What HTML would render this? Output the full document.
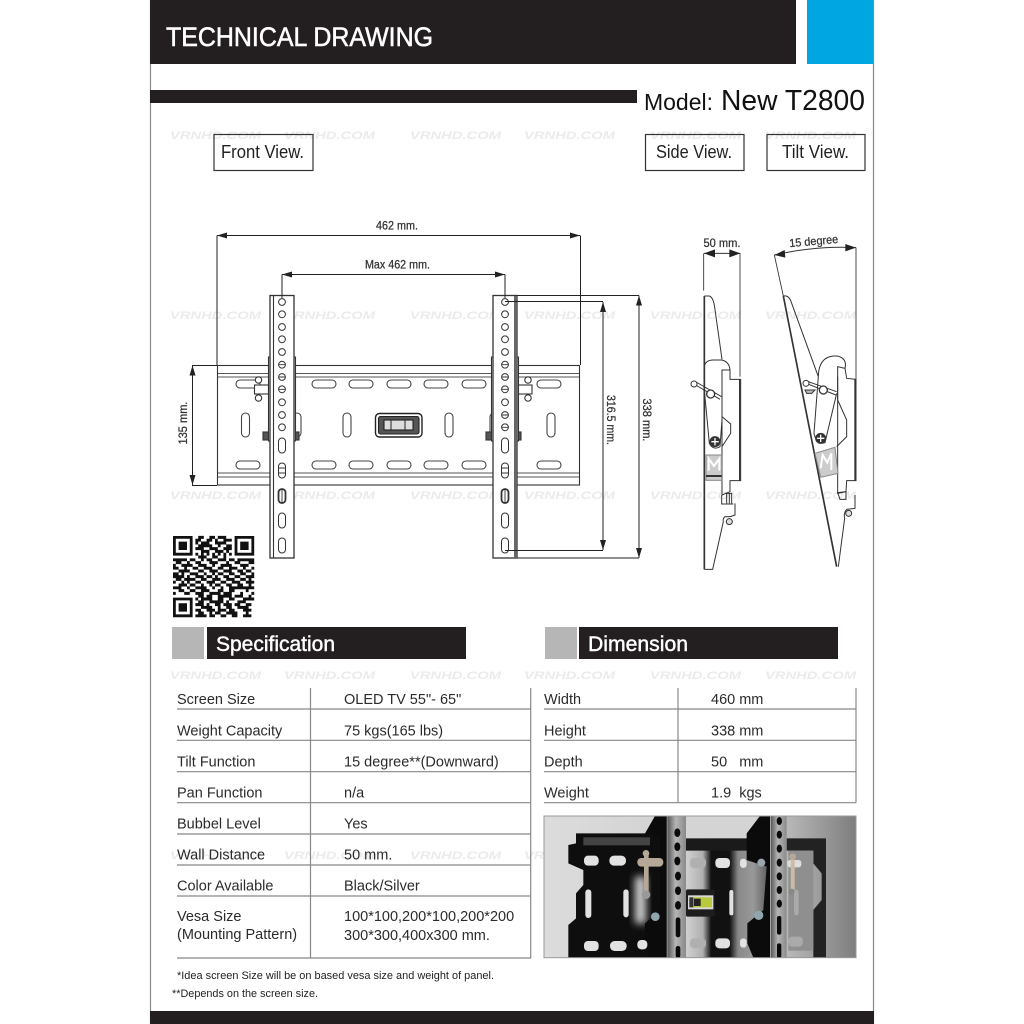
<!DOCTYPE html>
<html><head><meta charset="utf-8"><title>Technical Drawing</title>
<style>html,body{margin:0;padding:0;background:#fff}svg{display:block;filter:blur(.35px)}</style></head>
<body>
<svg xmlns="http://www.w3.org/2000/svg" width="1024" height="1024" viewBox="0 0 1024 1024">
<defs>
<linearGradient id="bgR" x1="0" x2="1" y1="0" y2="0"><stop offset="0" stop-color="#b8b8b8"/><stop offset="1" stop-color="#7e7e7e"/></linearGradient>
<linearGradient id="bgL" x1="0" x2="1" y1="0" y2="0"><stop offset="0" stop-color="#dcdcdc"/><stop offset="1" stop-color="#c4c4c4"/></linearGradient>
<linearGradient id="mid" x1="0" x2="1" y1="0" y2="0"><stop offset="0" stop-color="#d0d0d0"/><stop offset=".2" stop-color="#b0b0b0"/><stop offset=".3" stop-color="#111"/><stop offset=".52" stop-color="#111"/><stop offset=".62" stop-color="#888"/><stop offset=".8" stop-color="#999"/><stop offset="1" stop-color="#555"/></linearGradient>
<linearGradient id="rail" x1="0" x2="1" y1="0" y2="0"><stop offset="0" stop-color="#555"/><stop offset=".45" stop-color="#b5b5b5"/><stop offset="1" stop-color="#8a8a8a"/></linearGradient>
<filter id="soft" x="-50%" y="-50%" width="200%" height="200%"><feGaussianBlur stdDeviation="12"/></filter>
<marker id="ah" viewBox="0 0 10 6" refX="10" refY="3" markerWidth="10" markerHeight="6" markerUnits="userSpaceOnUse" orient="auto-start-reverse"><path d="M0 0L10 3L0 6z" fill="#222"/></marker>
</defs>

<!-- page frame -->
<rect x="150" y="0" width="724" height="1024" fill="#fff"/>
<path d="M150.500 0V1024M873.500 0V1024" stroke="#8a8a8a" stroke-width="1.200"/>
<rect x="150" y="0" width="646" height="64" fill="#231f20"/>
<rect x="807" y="0" width="66" height="64" fill="#00a6e2"/>
<rect x="150" y="90" width="487" height="13" fill="#231f20"/>
<rect x="150" y="1011" width="724" height="13" fill="#231f20"/>

<!-- watermarks -->
<g font-family="Liberation Sans, sans-serif" font-weight="bold" font-style="italic" font-size="11" fill="#ebebeb">
<text x="170" y="139" textLength="91" lengthAdjust="spacingAndGlyphs">VRNHD.COM</text><text x="284" y="139" textLength="91" lengthAdjust="spacingAndGlyphs">VRNHD.COM</text><text x="410" y="139" textLength="91" lengthAdjust="spacingAndGlyphs">VRNHD.COM</text><text x="524" y="139" textLength="91" lengthAdjust="spacingAndGlyphs">VRNHD.COM</text><text x="650" y="139" textLength="91" lengthAdjust="spacingAndGlyphs">VRNHD.COM</text><text x="765" y="139" textLength="91" lengthAdjust="spacingAndGlyphs">VRNHD.COM</text>
<text x="170" y="319" textLength="91" lengthAdjust="spacingAndGlyphs">VRNHD.COM</text><text x="284" y="319" textLength="91" lengthAdjust="spacingAndGlyphs">VRNHD.COM</text><text x="410" y="319" textLength="91" lengthAdjust="spacingAndGlyphs">VRNHD.COM</text><text x="524" y="319" textLength="91" lengthAdjust="spacingAndGlyphs">VRNHD.COM</text><text x="650" y="319" textLength="91" lengthAdjust="spacingAndGlyphs">VRNHD.COM</text><text x="765" y="319" textLength="91" lengthAdjust="spacingAndGlyphs">VRNHD.COM</text>
<text x="170" y="499" textLength="91" lengthAdjust="spacingAndGlyphs">VRNHD.COM</text><text x="284" y="499" textLength="91" lengthAdjust="spacingAndGlyphs">VRNHD.COM</text><text x="410" y="499" textLength="91" lengthAdjust="spacingAndGlyphs">VRNHD.COM</text><text x="524" y="499" textLength="91" lengthAdjust="spacingAndGlyphs">VRNHD.COM</text><text x="650" y="499" textLength="91" lengthAdjust="spacingAndGlyphs">VRNHD.COM</text><text x="765" y="499" textLength="91" lengthAdjust="spacingAndGlyphs">VRNHD.COM</text>
<text x="170" y="679" textLength="91" lengthAdjust="spacingAndGlyphs">VRNHD.COM</text><text x="284" y="679" textLength="91" lengthAdjust="spacingAndGlyphs">VRNHD.COM</text><text x="410" y="679" textLength="91" lengthAdjust="spacingAndGlyphs">VRNHD.COM</text><text x="524" y="679" textLength="91" lengthAdjust="spacingAndGlyphs">VRNHD.COM</text><text x="650" y="679" textLength="91" lengthAdjust="spacingAndGlyphs">VRNHD.COM</text><text x="765" y="679" textLength="91" lengthAdjust="spacingAndGlyphs">VRNHD.COM</text>
<text x="170" y="859" textLength="91" lengthAdjust="spacingAndGlyphs">VRNHD.COM</text><text x="284" y="859" textLength="91" lengthAdjust="spacingAndGlyphs">VRNHD.COM</text><text x="410" y="859" textLength="91" lengthAdjust="spacingAndGlyphs">VRNHD.COM</text><text x="524" y="859" textLength="91" lengthAdjust="spacingAndGlyphs">VRNHD.COM</text>
</g>

<!-- header text -->
<g font-family="Liberation Sans, sans-serif">
<text x="166" y="46" font-size="27" fill="#fff" stroke="#fff" stroke-width=".55" textLength="267" lengthAdjust="spacingAndGlyphs">TECHNICAL DRAWING</text>
<text x="644" y="110" font-size="23" fill="#111" textLength="69" lengthAdjust="spacingAndGlyphs">Model:</text>
<text x="721" y="110" font-size="28.500" fill="#111" textLength="144" lengthAdjust="spacingAndGlyphs">New T2800</text>
<g fill="none" stroke="#333" stroke-width="1.200"><rect x="214" y="134.500" width="99" height="36"/><rect x="645.500" y="134.500" width="98.500" height="36"/><rect x="767" y="134.500" width="98" height="36"/></g>
<g font-size="18" fill="#222">
<text x="221" y="158" textLength="83" lengthAdjust="spacingAndGlyphs">Front View.</text>
<text x="656" y="158" textLength="76" lengthAdjust="spacingAndGlyphs">Side View.</text>
<text x="782" y="158" textLength="67" lengthAdjust="spacingAndGlyphs">Tilt View.</text>
</g>
</g>

<!-- front view: plate -->
<g fill="none" stroke="#333" stroke-width="1.100">
<rect x="217.500" y="365.500" width="362" height="119.500"/>
<path d="M218 373.500H579M218 377H579M218 473H579M218 477H579" stroke="#555"/>
<g fill="#fff" stroke="#444">
<rect x="236" y="380" width="24" height="8" rx="4"/><rect x="312" y="380" width="24" height="8" rx="4"/><rect x="349" y="380" width="24" height="8" rx="4"/><rect x="387" y="380" width="24" height="8" rx="4"/><rect x="424" y="380" width="24" height="8" rx="4"/><rect x="462" y="380" width="24" height="8" rx="4"/><rect x="537" y="380" width="24" height="8" rx="4"/>
<rect x="236" y="461" width="24" height="8" rx="4"/><rect x="312" y="461" width="24" height="8" rx="4"/><rect x="349" y="461" width="24" height="8" rx="4"/><rect x="387" y="461" width="24" height="8" rx="4"/><rect x="424" y="461" width="24" height="8" rx="4"/><rect x="462" y="461" width="24" height="8" rx="4"/><rect x="537" y="461" width="24" height="8" rx="4"/>
<rect x="241.500" y="413" width="8" height="24" rx="4"/><rect x="343" y="413" width="8" height="24" rx="4"/><rect x="445" y="413" width="8" height="24" rx="4"/><rect x="547" y="413" width="8" height="24" rx="4"/>
<rect x="293" y="413" width="8" height="24" rx="4"/><rect x="490" y="413" width="8" height="24" rx="4"/>
</g>
<rect x="375.500" y="413.500" width="46.500" height="23.500" rx="4" stroke="#222" stroke-width="1.400"/>
<rect x="378.500" y="416.500" width="40.500" height="17.500" rx="2" stroke="#222" fill="#555"/>
<rect x="384" y="420" width="29" height="10" fill="#ddd" stroke="#222"/>
<path d="M391 420V430M405 420V430" stroke="#222" stroke-width="1"/>
<!-- tilt knobs -->
<circle cx="258.500" cy="380" r="3.200" fill="#fff"/><circle cx="258.500" cy="398" r="3.200" fill="#fff"/><rect x="254.500" y="385" width="14" height="9" fill="#fff"/>
<circle cx="528" cy="380" r="3.200" fill="#fff"/><circle cx="528" cy="398" r="3.200" fill="#fff"/><rect x="518" y="385" width="14" height="9" fill="#fff"/>
<!-- bolts -->
<rect x="263" y="432" width="6" height="8" fill="#555"/><rect x="294" y="432" width="5" height="8" fill="#555"/><rect x="486" y="432" width="6" height="8" fill="#555"/><rect x="516" y="432" width="5" height="8" fill="#555"/>
<!-- flanges -->
<path d="M268.500 357V441H295.500V357zM491.500 357V441H518.500V357z" fill="#f3f3f3" stroke="#333"/>
<!-- rails -->
<rect x="270" y="295.500" width="24" height="262.500" fill="#fff" stroke="#333" stroke-width="1.300"/>
<path d="M273.500 296V558"/>
<rect x="493" y="295.500" width="24" height="262.500" fill="#fff" stroke="#333" stroke-width="1.300"/>
<rect x="514" y="296" width="3" height="262" fill="#666" stroke="none"/>
<g fill="#fff" stroke="#333" stroke-width="1">
<circle cx="282" cy="302" r="3.400"/><circle cx="282" cy="314.300" r="3.400"/><circle cx="282" cy="327" r="3.400"/><circle cx="282" cy="339.300" r="3.400"/><circle cx="282" cy="352" r="3.400"/><circle cx="282" cy="364.700" r="3.400"/><circle cx="282" cy="377" r="3.400"/><circle cx="282" cy="389.300" r="3.400"/><circle cx="282" cy="402.300" r="3.400"/><circle cx="282" cy="415" r="3.400"/><circle cx="282" cy="427.300" r="3.400"/>
<rect x="278.500" y="438" width="7" height="15" rx="3.500"/><rect x="278.500" y="463" width="7" height="15" rx="3.500"/><rect x="278.500" y="489" width="7" height="14" rx="3.500" stroke-width="1.800"/><rect x="278.500" y="513" width="7" height="15" rx="3.500"/><rect x="278.500" y="538" width="7" height="15" rx="3.500"/>
<circle cx="505" cy="302" r="3.400"/><circle cx="505" cy="314.300" r="3.400"/><circle cx="505" cy="327" r="3.400"/><circle cx="505" cy="339.300" r="3.400"/><circle cx="505" cy="352" r="3.400"/><circle cx="505" cy="364.700" r="3.400"/><circle cx="505" cy="377" r="3.400"/><circle cx="505" cy="389.300" r="3.400"/><circle cx="505" cy="402.300" r="3.400"/><circle cx="505" cy="415" r="3.400"/><circle cx="505" cy="427.300" r="3.400"/>
<rect x="501.500" y="438" width="7" height="15" rx="3.500"/><rect x="501.500" y="463" width="7" height="15" rx="3.500"/><rect x="501.500" y="489" width="7" height="14" rx="3.500" stroke-width="1.800"/><rect x="501.500" y="513" width="7" height="15" rx="3.500"/><rect x="501.500" y="538" width="7" height="15" rx="3.500"/>
</g>
<path d="M278.500 364.700H285.500M278.500 377H285.500M278.500 389.300H285.500M278.500 468H285.500M278.500 473H285.500M282 489V503M501.500 364.700H508.500M501.500 377H508.500M501.500 389.300H508.500M501.500 415H508.500M501.500 427.300H508.500M501.500 468H508.500M501.500 473H508.500M505 489V503" stroke-width=".9"/>
</g>

<!-- dimensions -->
<g fill="none" stroke="#222" stroke-width="1">
<path d="M217 235.500H580" marker-start="url(#ah)" marker-end="url(#ah)"/><path d="M217 235.500V365M580.500 235.500V365"/>
<path d="M282 274.500H505" marker-start="url(#ah)" marker-end="url(#ah)"/><path d="M282 274.500V298M505 274.500V298"/>
<path d="M192.500 365.500V485" marker-start="url(#ah)" marker-end="url(#ah)"/><path d="M192 365.500H217M192 485.500H217"/>
<path d="M603 302V550" marker-start="url(#ah)" marker-end="url(#ah)"/><path d="M505 301.500H603M505 550.500H603"/>
<path d="M639 295.500V558" marker-start="url(#ah)" marker-end="url(#ah)"/><path d="M517 295.500H639M517 558H639"/>
</g>
<g font-family="Liberation Sans, sans-serif" font-size="11.500" fill="#333" stroke="#333" stroke-width=".25">
<text x="397" y="229.500" text-anchor="middle" textLength="42" lengthAdjust="spacingAndGlyphs">462 mm.</text>
<text x="397.500" y="268.500" text-anchor="middle" textLength="65" lengthAdjust="spacingAndGlyphs">Max 462 mm.</text>
<text transform="translate(187,423) rotate(-90)" text-anchor="middle" textLength="43" lengthAdjust="spacingAndGlyphs">135 mm.</text>
<text transform="translate(607,420) rotate(90)" text-anchor="middle" textLength="50" lengthAdjust="spacingAndGlyphs">316.5 mm.</text>
<text transform="translate(643,420) rotate(90)" text-anchor="middle" textLength="43" lengthAdjust="spacingAndGlyphs">338 mm.</text>
<text x="722" y="247" text-anchor="middle" textLength="37" lengthAdjust="spacingAndGlyphs">50 mm.</text>
<text transform="translate(814,245) rotate(-5)" text-anchor="middle" textLength="49" lengthAdjust="spacingAndGlyphs">15 degree</text>
</g>

<!-- side view -->
<g transform="translate(670,220) scale(.33333)" fill="none" stroke="#333" stroke-width="3">
<path d="M102 100H211" stroke-width="3"/>
<path d="M102 100L135 88V112zM211 100L178 88V112z" fill="#222" stroke="none"/>
<path d="M101 100V212M210 100V470" stroke-width="2.600"/>
<path d="M103 228V1048" stroke-width="5"/>
<path d="M103 228H118Q130 232 134 262L156 418"/>
<path d="M103 440Q106 420 130 420H155Q178 425 180 450V478H212V782H180V815L156 825V450H180"/>
<path d="M209 478V782" stroke-width="4"/>
<path d="M103 510L118 670Q130 692 150 680L156 600M156 590L182 612V640L156 680"/>
<path d="M72 492L150 538M78 486L155 530" stroke-width="3"/>
<circle cx="72" cy="492" r="9" fill="#fff"/><circle cx="122" cy="522" r="12" fill="#fff" stroke-width="4"/>
<circle cx="135" cy="665" r="15" fill="#333"/><path d="M124 665H146M135 654V676" stroke="#fff" stroke-width="4"/>
<rect x="108" y="705" width="47" height="76" fill="#ccc" stroke="#888"/>
<path d="M116 752V716L132 738L148 716V752" stroke="#fff" stroke-width="6"/>
<path d="M108 768H155" stroke="#333" stroke-width="6"/>
<path d="M155 825V852H190M165 820H185V852" stroke-width="3"/>
<path d="M170 820V850M178 820V850" stroke-width="3"/>
<path d="M195 850V885Q180 892 165 890Q158 895 160 905L128 1048H103"/>
<circle cx="178" cy="905" r="9" fill="#ddd"/>
<!-- tilt -->
<path d="M313 105L340 228" stroke-width="2.600"/>
<path d="M340 228L500 1040" stroke-width="5"/>
<path d="M558 83V478" stroke-width="2.600"/>
<path d="M313 105Q440 76 558 83" stroke-width="3"/>
<path d="M313 105L344 90L346 113zM558 83L526 72L526 94z" fill="#222" stroke="none"/>
<path d="M340 228Q358 224 365 250L445 470"/>
<path d="M445 470Q446 412 490 408H502Q532 415 525 445L530 475L558 478V782H530L528 815L503 820V440L525 445"/>
<path d="M555 478V782" stroke-width="4"/>
<path d="M503 470V540L530 600V650L500 680M445 470L432 640Q440 676 465 668L500 520"/>
<path d="M408 490L498 525M412 484L500 515" stroke-width="3"/>
<path d="M405 510H435L425 520H410z" fill="#bbb"/>
<circle cx="408" cy="490" r="9" fill="#fff"/><circle cx="460" cy="510" r="12" fill="#fff" stroke-width="4"/>
<circle cx="452" cy="655" r="15" fill="#333"/><path d="M441 655H463M452 644V666" stroke="#fff" stroke-width="4"/>
<path d="M435 700L495 682L504 760L452 772z" fill="#ccc" stroke="#888"/>
<path d="M452 745L458 705L472 728L484 700V750" stroke="#fff" stroke-width="6"/>
<path d="M503 818L528 815V838H510zM555 825V865L530 868Q520 880 524 895L505 1040" stroke-width="3"/>
<circle cx="536" cy="880" r="9" fill="#ddd"/>
</g>

<!-- QR -->
<g transform="translate(173,536) scale(2.8)">
<path fill="#111" fill-rule="evenodd" d="M0 0H7V7H0zM1 1V6H6V1zM2 2H5V5H2zM22 0H29V7H22zM23 1V6H28V1zM24 2H27V5H24zM0 22H7V29H0zM1 23V28H6V23zM2 24H5V27H2z"/>
<path fill="none" stroke="#111" stroke-width="1.050" d="M9 .5h2M13 .5h2M16 .5h3M8 1.500h2M12 1.500h2M15 1.500h1M18 1.500h3M8 2.500h1M10 2.500h3M15 2.500h4M9 3.500h5M16 3.500h1M19 3.500h2M8 4.500h3M13 4.500h3M18 4.500h3M10 5.500h3M15 5.500h3M19 5.500h1M8 6.500h1M10 6.500h1M12 6.500h1M14 6.500h1M16 6.500h1M18 6.500h1M20 6.500h1M9 7.500h3M14 7.500h2M18 7.500h1M0 8.500h5M6 8.500h2M10 8.500h1M12 8.500h2M16 8.500h3M20 8.500h2M23 8.500h6M1 9.500h2M5 9.500h1M8 9.500h2M13 9.500h3M19 9.500h1M22 9.500h2M27 9.500h2M0 10.500h1M3 10.500h4M9 10.500h3M14 10.500h1M17 10.500h4M24 10.500h3M0 11.500h2M4 11.500h1M7 11.500h2M11 11.500h3M16 11.500h2M20 11.500h3M25 11.500h1M28 11.500h1M2 12.500h4M9 12.500h2M13 12.500h3M18 12.500h3M23 12.500h2M26 12.500h2M0 13.500h2M3 13.500h1M6 13.500h3M11 13.500h1M14 13.500h1M16 13.500h2M20 13.500h2M24 13.500h2M28 13.500h1M0 14.500h4M5 14.500h1M8 14.500h3M12 14.500h2M15 14.500h1M18 14.500h2M22 14.500h2M26 14.500h3M1 15.500h2M4 15.500h4M10 15.500h2M14 15.500h3M19 15.500h3M24 15.500h2M27 15.500h1M0 16.500h1M3 16.500h1M5 16.500h1M8 16.500h2M12 16.500h3M17 16.500h2M21 16.500h3M26 16.500h3M2 17.500h3M6 17.500h2M10 17.500h1M13 17.500h1M15 17.500h2M19 17.500h2M23 17.500h2M27 17.500h1M0 18.500h3M5 18.500h1M8 18.500h4M14 18.500h1M17 18.500h1M20 18.500h9M2 19.500h2M6 19.500h2M10 19.500h3M16 19.500h2M20 19.500h2M26 19.500h1M0 20.500h1M4 20.500h2M8 20.500h3M13 20.500h4M18 20.500h3M24 20.500h1M28 20.500h1M9 21.500h2M12 21.500h2M16 21.500h5M22 21.500h3M27 21.500h1M8 22.500h1M10 22.500h4M16 22.500h2M20 22.500h2M25 22.500h4M9 23.500h2M13 23.500h5M19 23.500h1M23 23.500h3M8 24.500h3M12 24.500h1M15 24.500h2M18 24.500h3M22 24.500h2M26 24.500h2M10 25.500h4M16 25.500h1M19 25.500h2M23 25.500h4M8 26.500h2M12 26.500h3M16 26.500h3M20 26.500h2M25 26.500h3M9 27.500h2M13 27.500h1M15 27.500h2M19 27.500h4M26 27.500h1M8 28.500h4M13 28.500h2M17 28.500h2M21 28.500h2M25 28.500h3"/>
</g>

<!-- section headers -->
<rect x="172" y="627" width="32" height="32" fill="#b6b6b6"/><rect x="207" y="627" width="259" height="32" fill="#231f20"/>
<rect x="545" y="627" width="32" height="32" fill="#b6b6b6"/><rect x="579" y="627" width="259" height="32" fill="#231f20"/>
<g font-family="Liberation Sans, sans-serif" font-size="21" fill="#fff" stroke="#fff" stroke-width=".45">
<text x="216" y="651" textLength="119" lengthAdjust="spacingAndGlyphs">Specification</text>
<text x="588" y="651" textLength="100" lengthAdjust="spacingAndGlyphs">Dimension</text>
</g>

<!-- tables -->
<g stroke="#888" stroke-width="1.200" fill="none">
<path d="M177 709H531M177 740.300H531M177 771.700H531M177 802.700H531M177 834H531M177 865H531M177 896H531M177 958H531"/>
<path d="M310.500 688V958M530.700 688V958"/>
<path d="M544 709H856M544 740.300H856M544 771.700H856M544 802.700H856M678 688V802.700M856 688V802.700"/>
</g>
<g font-family="Liberation Sans, sans-serif" font-size="14.500" fill="#2b2b2b">
<text x="177" y="704">Screen Size</text><text x="344" y="704">OLED TV 55"- 65"</text>
<text x="177" y="735.500">Weight Capacity</text><text x="344" y="735.500">75 kgs(165 lbs)</text>
<text x="177" y="766.500">Tilt Function</text><text x="344" y="766.500">15 degree**(Downward)</text>
<text x="177" y="797.500">Pan Function</text><text x="344" y="797.500">n/a</text>
<text x="177" y="828.500">Bubbel Level</text><text x="344" y="828.500">Yes</text>
<text x="177" y="859.500">Wall Distance</text><text x="344" y="859.500">50 mm.</text>
<text x="177" y="890.500">Color Available</text><text x="344" y="890.500">Black/Silver</text>
<text x="177" y="921">Vesa Size</text><text x="177" y="939">(Mounting Pattern)</text>
<text x="344" y="921">100*100,200*100,200*200</text><text x="344" y="940">300*300,400x300 mm.</text>
<text x="544" y="704">Width</text><text x="711" y="704">460 mm</text>
<text x="544" y="735.500">Height</text><text x="711" y="735.500">338 mm</text>
<text x="544" y="766.500">Depth</text><text x="711" y="766.500" xml:space="preserve">50   mm</text>
<text x="544" y="797.500">Weight</text><text x="711" y="797.500" xml:space="preserve">1.9  kgs</text>
</g>
<g font-family="Liberation Sans, sans-serif" font-size="11" fill="#222">
<text x="177" y="979" textLength="317" lengthAdjust="spacingAndGlyphs">*Idea screen Size will be on based vesa size and weight of panel.</text>
<text x="172" y="997" textLength="146" lengthAdjust="spacingAndGlyphs">**Depends on the screen size.</text>
</g>

<!-- photo -->
<g transform="translate(540,810) scale(.33333)">
<rect x="12" y="18" width="936" height="425" fill="url(#bgL)"/>
<rect x="740" y="18" width="208" height="425" fill="url(#bgR)"/>
<rect x="438" y="85" width="252" height="358" fill="url(#mid)"/>
<path d="M438 18H650L640 85H438z" fill="#d4d4d4"/>
<path d="M438 85H640V122H438z" fill="#1a1a1a"/>
<path d="M85 105L108 100V70H320L345 18H380V443H85V345L108 325V250L130 225V180L85 160z" fill="#0e0e0e"/>
<rect x="130" y="82" width="200" height="24" fill="#444"/>
<path d="M285 200H318V340H285z" fill="#cfcfcf" filter="url(#soft)"/>
<path d="M315 70L345 18H380V443H330L315 400V340L360 300V80z" fill="#0b0b0b"/>
<path d="M620 70L660 18H690V443H640L622 400V340L670 300L680 170L620 150z" fill="#0b0b0b"/>
<g fill="#e2e2e2">
<rect x="132" y="137" width="44" height="30" rx="12"/><rect x="208" y="137" width="50" height="30" rx="14"/><rect x="132" y="393" width="44" height="30" rx="12"/><rect x="210" y="393" width="50" height="30" rx="14"/><rect x="292" y="390" width="30" height="28" rx="12"/>
<rect x="136" y="238" width="18" height="86" rx="9"/><rect x="250" y="238" width="16" height="84" rx="8"/>
<rect x="526" y="144" width="44" height="30" rx="12"/><rect x="526" y="385" width="44" height="30" rx="12"/><rect x="600" y="146" width="20" height="28" rx="10"/><rect x="600" y="385" width="20" height="28" rx="10"/><rect x="568" y="240" width="12" height="76" rx="6"/>
</g>
<g fill="#b0b0b0"><rect x="450" y="144" width="48" height="30" rx="12"/><rect x="450" y="385" width="48" height="30" rx="12"/><rect x="745" y="380" width="44" height="30" rx="12"/><rect x="762" y="240" width="14" height="76" rx="7"/></g>
<!-- right section bracket -->
<path d="M740 85H858V443H820V300L845 270V190L820 160V122H740z" fill="#222"/>
<rect x="745" y="122" width="75" height="300" fill="#8f8f8f"/>
<rect x="745" y="380" width="44" height="30" rx="12" fill="#aaa"/><rect x="762" y="240" width="14" height="76" rx="7" fill="#aaa"/>
<!-- rails -->
<rect x="382" y="18" width="56" height="425" fill="url(#rail)"/>
<rect x="692" y="18" width="48" height="425" fill="url(#rail)"/>
<g fill="#0a0a0a">
<ellipse cx="412" cy="68" rx="9" ry="13"/><ellipse cx="412" cy="110" rx="9" ry="13"/><ellipse cx="412" cy="153" rx="9" ry="13"/><ellipse cx="414" cy="198" rx="9" ry="13"/><ellipse cx="414" cy="242" rx="9" ry="13"/><ellipse cx="414" cy="286" rx="9" ry="13"/>
<rect x="407" y="322" width="14" height="60" rx="7"/><rect x="407" y="408" width="14" height="36" rx="7"/>
<ellipse cx="718" cy="33" rx="8" ry="12"/><ellipse cx="718" cy="74" rx="8" ry="12"/><ellipse cx="718" cy="116" rx="8" ry="12"/><ellipse cx="718" cy="158" rx="8" ry="12"/><ellipse cx="718" cy="199" rx="8" ry="12"/><ellipse cx="718" cy="240" rx="8" ry="12"/><ellipse cx="718" cy="281" rx="8" ry="12"/>
<rect x="711" y="318" width="13" height="56" rx="6"/><rect x="711" y="400" width="13" height="44" rx="6"/>
</g>
<!-- level -->
<rect x="438" y="238" width="86" height="82" rx="5" fill="#1d1d1d"/>
<rect x="444" y="256" width="76" height="42" fill="#d8d8d8"/>
<rect x="448" y="262" width="68" height="30" fill="#b9c93c"/>
<rect x="462" y="266" width="20" height="22" fill="#222"/><rect x="448" y="262" width="12" height="30" fill="#333"/>
<!-- hardware -->
<g fill="#b5a896">
<rect x="292" y="144" width="78" height="26" rx="12"/><rect x="312" y="125" width="14" height="140" rx="5"/><circle cx="318" cy="254" r="13" fill="#999"/><circle cx="318" cy="130" r="10"/>
<rect x="742" y="150" width="42" height="22" rx="8" fill="#ddd"/><rect x="752" y="135" width="12" height="110" fill="#c9bda8"/><circle cx="758" cy="140" r="10"/><circle cx="755" cy="245" r="9" fill="#888"/>
</g>
<circle cx="346" cy="320" r="13" fill="#8fa6ad"/><circle cx="664" cy="158" r="12" fill="#9aa8ad"/><circle cx="656" cy="316" r="14" fill="#8fa6ad"/>
<rect x="12" y="18" width="936" height="425" fill="none" stroke="#9a9a9a" stroke-width="3"/>
</g>
</svg>
</body></html>
